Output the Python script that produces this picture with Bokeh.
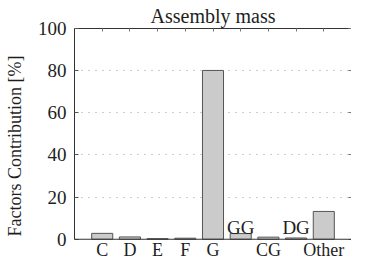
from bokeh.plotting import figure
from bokeh.models import Range1d, FixedTicker, LinearAxis, ColumnDataSource, Span
from bokeh.core.properties import value
from bokeh.embed import file_html
from bokeh.resources import INLINE

categories = ["C", "D", "E", "F", "G", "GG", "CG", "DG", "Other"]
contrib = [2.8, 1.1, 0.3, 0.5, 80.1, 2.7, 1.0, 0.6, 13.2]
raised_labels = ["GG", "DG"]          # labels drawn inside the plot, above the axis
y_ticks = [0, 20, 40, 60, 80, 100]

xs = list(range(1, len(categories) + 1))
src = ColumnDataSource(dict(x=xs, top=contrib, cat=categories))
low = [(x, c) for x, c in zip(xs, categories) if c not in raised_labels]
high = [(x, c) for x, c in zip(xs, categories) if c in raised_labels]

FONT = "Liberation Serif"
TXT = "#1e1e1e"
AX = "#333333"

p = figure(width=351, height=263, output_backend="svg", toolbar_location=None,
           x_range=Range1d(0, len(categories) + 1), y_range=Range1d(-11.5, 100),
           x_axis_location=None,
           min_border_left=74, min_border_right=0, min_border_top=11, min_border_bottom=0)
p.outline_line_color = None

p.ygrid.ticker = FixedTicker(ticks=y_ticks[1:-1])
p.ygrid.grid_line_color = "#9a9a9a"
p.ygrid.grid_line_dash = "1 6"
p.xgrid.grid_line_color = None

p.vbar(x="x", top="top", width=0.76, source=src,
       fill_color="#cbcbcb", line_color="#555555", line_width=1)

# bottom axis line at zero
p.add_layout(Span(location=0, dimension="width", line_color=AX, line_width=1))

# category labels under the axis
p.text(x=[x for x, _ in low], y=[0] * len(low), text=[c for _, c in low], y_offset=1,
       text_align="center", text_baseline="top",
       text_font=value(FONT), text_font_size="18px", text_color=TXT)
# raised labels (drawn above the axis)
p.text(x=[x for x, _ in high], y=[0] * len(high), text=[c for _, c in high], y_offset=-12,
       text_align="center", text_baseline="alphabetic",
       text_font=value(FONT), text_font_size="19px", text_color=TXT)

p.title.text = "Assembly mass"
p.title.align = "center"
p.title.text_font = FONT
p.title.text_font_style = "normal"
p.title.text_font_size = "20px"
p.title.text_color = TXT
p.title.offset = -6
p.title.standoff = 4

ya = p.yaxis[0]
ya.ticker = FixedTicker(ticks=y_ticks)
ya.bounds = (0, 100)
ya.axis_label = "Factors Contribution [%]"
ya.axis_label_text_font = FONT
ya.axis_label_text_font_style = "normal"
ya.axis_label_text_font_size = "18px"
ya.axis_label_text_color = TXT
ya.axis_label_standoff = 10
ya.major_label_text_font = FONT
ya.major_label_text_font_size = "19px"
ya.major_label_text_color = TXT
ya.major_label_standoff = 8
ya.major_tick_in = 4
ya.major_tick_out = 0
ya.minor_tick_line_color = None
ya.axis_line_color = AX
ya.major_tick_line_color = "#555555"

top_ax = LinearAxis(ticker=FixedTicker(ticks=xs), major_label_overrides={t: "" for t in xs},
                    major_label_text_font_size="1px",
                    major_label_standoff=0, major_tick_in=3, major_tick_out=0,
                    minor_tick_line_color=None, axis_line_color=AX,
                    major_tick_line_color="#777777")
right_ax = LinearAxis(ticker=FixedTicker(ticks=y_ticks), bounds=(0, 100),
                      major_label_overrides={t: "" for t in y_ticks},
                      major_label_text_font_size="1px",
                      major_label_standoff=0, major_tick_in=3, major_tick_out=0,
                      minor_tick_line_color=None, axis_line_color=AX,
                      major_tick_line_color="#777777")
p.add_layout(top_ax, "above")
p.add_layout(right_ax, "right")

open("out.html", "w").write(file_html(p, INLINE))
